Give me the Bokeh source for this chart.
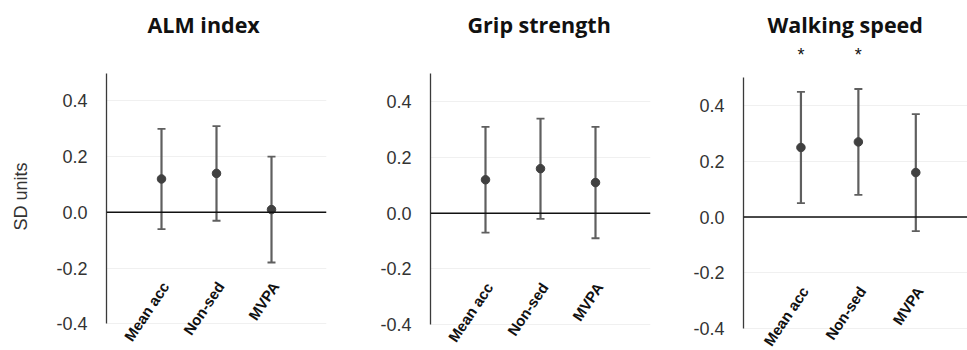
from bokeh.plotting import figure
from bokeh.layouts import row
from bokeh.models import (ColumnDataSource, Range1d, FixedTicker, PrintfTickFormatter,
                          Span, Whisker, TeeHead, Title)
from bokeh.core.properties import value
from bokeh.embed import file_html
from bokeh.resources import INLINE

# ---------------- data ----------------
categories = ["Mean acc", "Non-sed", "MVPA"]
panel_titles = ["ALM index", "Grip strength", "Walking speed"]

alm_mean = [0.12, 0.14, 0.01]
alm_lower = [-0.06, -0.03, -0.18]
alm_upper = [0.30, 0.31, 0.20]

grip_mean = [0.12, 0.16, 0.11]
grip_lower = [-0.07, -0.02, -0.09]
grip_upper = [0.31, 0.34, 0.31]

walk_mean = [0.25, 0.27, 0.16]
walk_lower = [0.05, 0.08, -0.05]
walk_upper = [0.45, 0.46, 0.37]
walk_sig = ["*", "*", ""]

y_ticks = [-0.4, -0.2, 0.0, 0.2, 0.4]
y_label = "SD units"

# ---------------- styling ----------------
TICK_FONT = "Liberation Sans"
TITLE_FONT = "Open Sans"
BAR_COLOR = "#5f5f5f"
DOT_COLOR = "#404040"
TEXT_COLOR = "#333333"

def make_panel(title, means, lowers, uppers, sig, width, left, right,
               y_lo, y_hi, x_hi, title_offset, show_label):
    p = figure(width=width, height=350, output_backend="svg", toolbar_location=None,
               x_range=Range1d(0, x_hi), y_range=Range1d(y_lo, y_hi),
               x_axis_location=None, min_border_left=left, min_border_right=right,
               min_border_top=42, min_border_bottom=0, title=None)
    p.outline_line_color = None
    p.background_fill_color = "white"
    p.border_fill_color = "white"
    p.xgrid.visible = False

    t = Title(text=title, text_font=TITLE_FONT, text_font_size="21.5px",
              text_font_style="bold", text_color="#111111", align="left",
              offset=title_offset, standoff=7)
    p.add_layout(t, "above")

    yaxis = p.yaxis[0]
    yaxis.ticker = FixedTicker(ticks=y_ticks)
    yaxis.formatter = PrintfTickFormatter(format="%.1f")
    yaxis.bounds = (-0.4, 0.5)
    yaxis.axis_line_color = "#3a3a3a"
    yaxis.axis_line_width = 1.3
    yaxis.major_tick_line_color = None
    yaxis.minor_tick_line_color = None
    yaxis.major_tick_out = 0
    yaxis.major_tick_in = 0
    yaxis.major_label_standoff = 19
    yaxis.major_label_text_font = TICK_FONT
    yaxis.major_label_text_font_size = "18px"
    yaxis.major_label_text_color = TEXT_COLOR
    if show_label:
        yaxis.axis_label = y_label
        yaxis.axis_label_text_font = TICK_FONT
        yaxis.axis_label_text_font_size = "18px"
        yaxis.axis_label_text_font_style = "normal"
        yaxis.axis_label_text_color = TEXT_COLOR
        yaxis.axis_label_standoff = 22

    p.ygrid.ticker = FixedTicker(ticks=y_ticks)
    p.ygrid.grid_line_color = "#f0f0f0"
    p.ygrid.grid_line_width = 1

    xs = [i + 1 for i in range(len(categories))]
    src = ColumnDataSource(dict(x=xs, m=means, lo=lowers, hi=uppers, cat=categories,
                                sig=sig if sig else [""] * len(categories)))

    p.add_layout(Span(location=0, dimension="width", line_color="#111111", line_width=1.5))

    w = Whisker(source=src, base="x", lower="lo", upper="hi", dimension="height",
                line_color=BAR_COLOR, line_width=2.2,
                upper_head=TeeHead(size=8, line_color=BAR_COLOR, line_width=1.8),
                lower_head=TeeHead(size=8, line_color=BAR_COLOR, line_width=1.8))
    p.add_layout(w)
    p.scatter("x", "m", source=src, size=8.5, fill_color=DOT_COLOR, line_color=DOT_COLOR)

    p.text("x", -0.255, text="cat", source=src, angle=56, angle_units="deg",
           text_align="right", text_baseline="middle", x_offset=4,
           text_font=value(TICK_FONT), text_font_style="bold",
           text_font_size="15px", text_color="#111111")
    if sig:
        p.text("x", 0.583, text="sig", source=src, text_align="center",
               text_baseline="middle", text_font=value(TICK_FONT),
               text_font_size="18px", text_color="#111111")
    return p

p1 = make_panel(panel_titles[0], alm_mean, alm_lower, alm_upper, None,
                330, 106, 4, -0.496, 0.610, 4, 41, True)
p2 = make_panel(panel_titles[1], grip_mean, grip_lower, grip_upper, None,
                322, 100, 2, -0.493, 0.613, 4, 37, False)
p3 = make_panel(panel_titles[2], walk_mean, walk_lower, walk_upper, walk_sig,
                315, 91, 0, -0.479, 0.627, 3.9, 24, False)

layout = row(p1, p2, p3, spacing=0)
open("out.html", "w").write(file_html(layout, INLINE))
